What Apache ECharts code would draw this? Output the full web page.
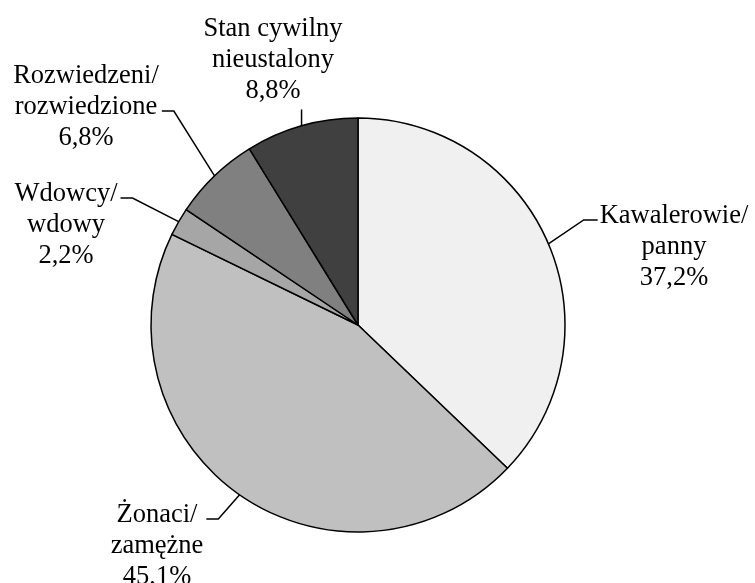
<!DOCTYPE html>
<html>
<head>
<meta charset="utf-8">
<script src="https://cdn.jsdelivr.net/npm/echarts@6/dist/echarts.min.js"></script>
<style>
  html, body { margin: 0; padding: 0; background: #fff; }
  #stan { width: 755px; height: 583px; }
</style>
</head>
<body>
<div id="stan"></div>
<script>
// stan cywilny - udzial procentowy
var categories = ['Kawalerowie/\npanny', 'Żonaci/\nzamężne', 'Wdowcy/\nwdowy', 'Rozwiedzeni/\nrozwiedzione', 'Stan cywilny\nnieustalony']
var percents = [37.2, 45.1, 2.2, 6.8, 8.8]
var colors = ['#f0f0f0', '#c0c0c0', '#a6a6a6', '#808080', '#404040']

// srodki etykiet i miejsce podpiecia linii
var labelPos = [[674, 247], [157, 546], [66, 225], [86, 107], [273, 60]]
var attach = [['left', 0], ['right', 0], ['right', 0], ['right', 1], ['bottom', 0]]

var lh = 31

var chart = echarts.init(document.getElementById('stan'))

var data = categories.map(function (name, i) {
  return { name: name, value: percents[i], itemStyle: { color: colors[i] } }
})

var option = {
  backgroundColor: '#fff',
  animation: false,
  series: [
    {
      type: 'pie',
      center: [358, 325],
      radius: 207,
      startAngle: 90,
      clockwise: true,
      avoidLabelOverlap: false,
      data: data,
      itemStyle: { borderColor: '#000', borderWidth: 1.5 },
      emphasis: { disabled: true },
      label: {
        show: true,
        position: 'outside',
        color: '#000',
        fontFamily: '"Liberation Serif", "Times New Roman", serif',
        fontSize: 26.5,
        lineHeight: lh,
        align: 'center',
        formatter: function (p) {
          return p.name + '\n' + p.value.toFixed(1).replace('.', ',') + '%'
        }
      },
      labelLine: {
        show: true,
        length: 10,
        length2: 10,
        lineStyle: { color: '#000', width: 1.5 }
      },
      labelLayout: function (p) {
        var i = p.dataIndex
        var w = p.labelRect.width
        var h = p.labelRect.height
        var cx = labelPos[i][0]
        var cy = labelPos[i][1]
        var left = cx - w / 2
        var right = cx + w / 2
        var top = cy - h / 2
        var bottom = cy + h / 2
        var a = p.labelLinePoints ? p.labelLinePoints[0] : [cx, cy]
        var side = attach[i][0]
        var ly = top + lh * attach[i][1] + lh / 2 + 4
        var pts
        if (side === 'left') {
          pts = [a, [left - 16, ly], [left - 2, ly]]
        } else if (side === 'right') {
          pts = [a, [right + 15, ly], [right + 3, ly]]
        } else {
          pts = [a, [a[0], bottom + 3], [a[0], bottom + 3]]
        }
        return {
          x: cx,
          y: cy,
          align: 'center',
          verticalAlign: 'middle',
          labelLinePoints: pts
        }
      }
    }
  ]
}
chart.setOption(option)
</script>
</body>
</html>
